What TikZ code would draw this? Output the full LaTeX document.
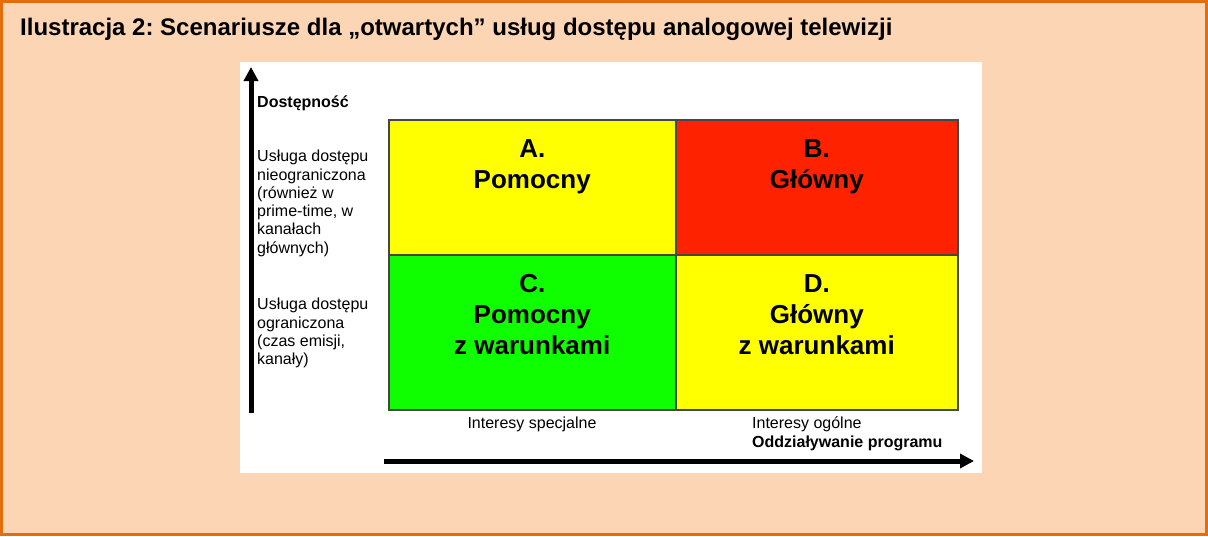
\documentclass[tikz,border=0pt]{standalone}
\usepackage{fontspec}
\setmainfont{Liberation Sans}
\usetikzlibrary{arrows.meta,positioning}
\frenchspacing
\definecolor{ilpeach}{RGB}{252,213,180}
\definecolor{ilorange}{RGB}{228,108,10}
\definecolor{ilyellow}{RGB}{255,255,0}
\definecolor{ilred}{RGB}{255,34,0}
\definecolor{ilgreen}{RGB}{16,255,0}
\definecolor{ilgrey}{RGB}{70,70,70}
\tikzstyle{axis} = [line width=5pt,-{Triangle[length=14pt,width=14pt]},color=black]
\tikzstyle{cell} = [rectangle, draw=ilgrey, line width=1.5pt, inner sep=0pt, anchor=north west]
\tikzstyle{celltext} = [align=center, inner sep=0pt, anchor=north, font=\bfseries\fontsize{26}{31}\selectfont]
\tikzstyle{sidetext} = [align=left, inner sep=0pt, anchor=north west, font=\fontsize{16}{18.3}\selectfont]
\tikzstyle{axistext} = [inner sep=0pt, anchor=base west, font=\fontsize{16}{19}\selectfont]

\begin{document}
\begin{tikzpicture}[x=1pt, y=-1pt]
    \useasboundingbox (0,0) rectangle (1208,536);
    \draw[ilorange, fill=ilpeach, line width=3pt] (1.5,1.5) rectangle (1206.5,534.5);
    \node[anchor=base west, inner sep=0pt, font=\bfseries\fontsize{24}{28}\selectfont] (title) at (20,35) {Ilustracja 2: Scenariusze dla „otwartych” usług dostępu analogowej telewizji};
    \node[fill=white, minimum width=742pt, minimum height=411pt, anchor=north west, inner sep=0pt] (panel) at (240,62) {};

    % quadrants
    \node[cell, fill=ilyellow, minimum width=287pt, minimum height=135pt] (cA) at (388,119) {};
    \node[cell, fill=ilred, minimum width=282pt, minimum height=135pt] (cB) at (675,119) {};
    \node[cell, fill=ilgreen, minimum width=287pt, minimum height=155pt] (cC) at (388,254) {};
    \node[cell, fill=ilyellow, minimum width=282pt, minimum height=155pt] (cD) at (675,254) {};
    \node[celltext, below=20pt of cA.north] (tA) {A.\\Pomocny};
    \node[celltext, below=20pt of cB.north] (tB) {B.\\Główny};
    \node[celltext, below=20pt of cC.north] (tC) {C.\\Pomocny\\z warunkami};
    \node[celltext, below=20pt of cD.north] (tD) {D.\\Główny\\z warunkami};

    % vertical axis
    \node[anchor=base west, inner sep=0pt, font=\bfseries\fontsize{16}{19}\selectfont] (avail) at (257,107) {Dostępność};
    \node[sidetext] (full) at (257,150) {Usługa dostępu\\nieograniczona\\(również w\\prime-time, w\\kanałach\\głównych)};
    \node[sidetext] (limited) at (257,298) {Usługa dostępu\\ograniczona\\(czas emisji,\\kanały)};
    \coordinate (ybot) at (251,413);
    \coordinate (ytop) at (251,67);
    \draw[axis] (ybot) -- (ytop);

    % horizontal axis
    \node[axistext, anchor=base] (special) at (532,428) {Interesy specjalne};
    \node[axistext] (general) at (752,428) {Interesy ogólne};
    \node[axistext, font=\bfseries\fontsize{16}{19}\selectfont] (impact) at (752,447) {Oddziaływanie programu};
    \coordinate (xleft) at (384,461);
    \coordinate (xright) at (974,461);
    \draw[axis] (xleft) -- (xright);
\end{tikzpicture}
\end{document}
